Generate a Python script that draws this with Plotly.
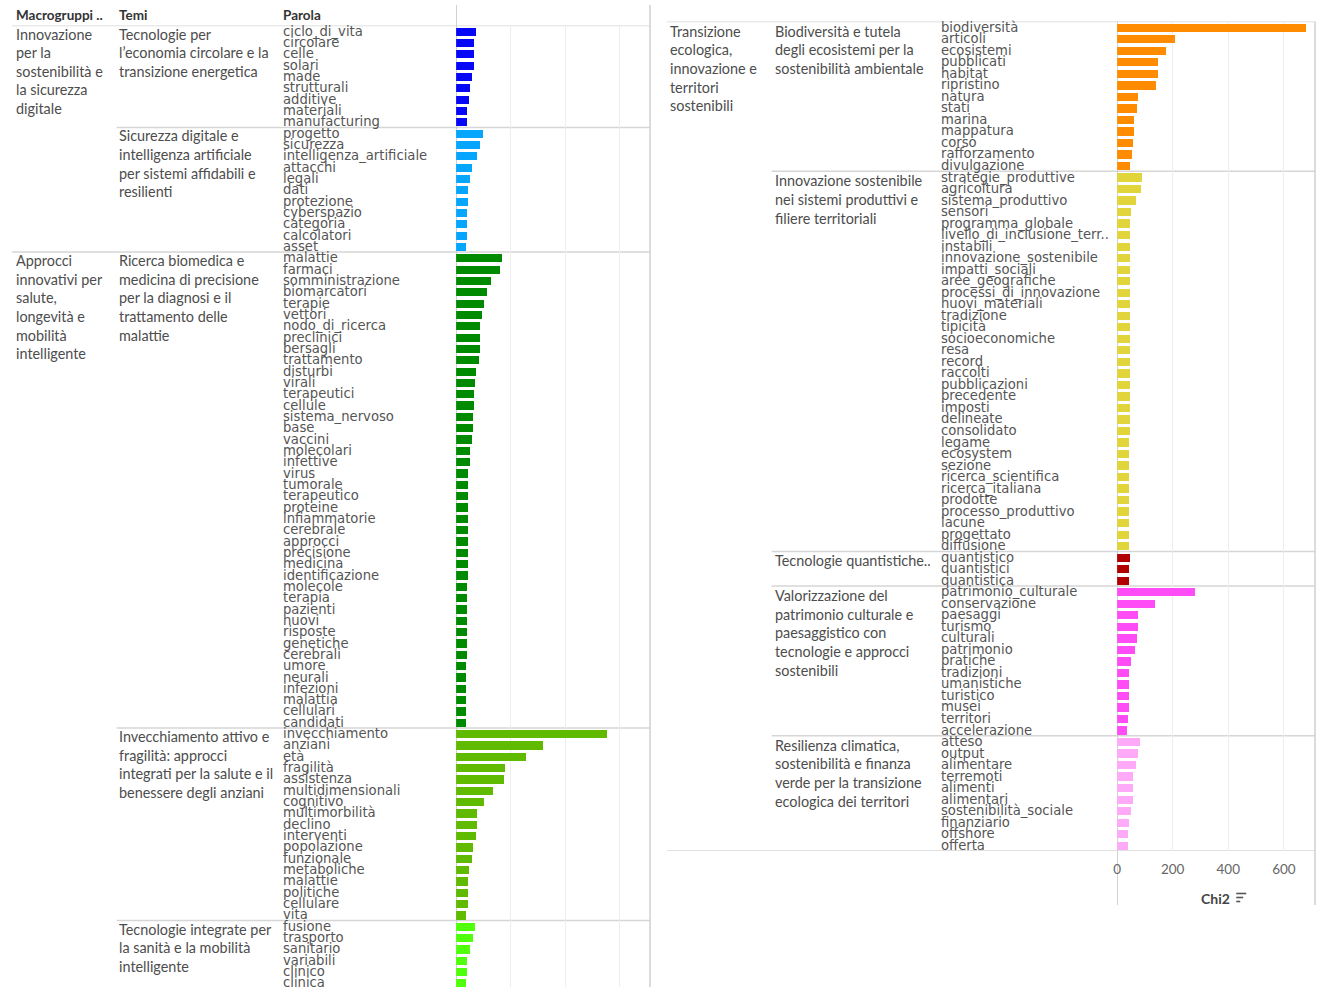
import plotly.graph_objects as go

W, H = 1319, 987

# ---------------- DATA ----------------
# Left column
m1_lines = ["Innovazione", "per la", "sostenibilità e", "la sicurezza", "digitale"]
m2_lines = ["Approcci", "innovativi per", "salute,", "longevità e", "mobilità", "intelligente"]

t1_lines = ["Tecnologie per", "l’economia circolare e la", "transizione energetica"]
t1_words = ["ciclo_di_vita", "circolare", "celle", "solari", "made", "strutturali",
            "additive", "materiali", "manufacturing"]
t1_chi2 = [75, 66, 66, 66, 59, 50, 47, 39, 39]

t2_lines = ["Sicurezza digitale e", "intelligenza artificiale", "per sistemi affidabili e", "resilienti"]
t2_words = ["progetto", "sicurezza", "intelligenza_artificiale", "attacchi", "legali", "dati",
            "protezione", "cyberspazio", "categoria", "calcolatori", "asset"]
t2_chi2 = [100, 89, 77, 59, 50, 44, 44, 41, 41, 41, 36]

t3_lines = ["Ricerca biomedica e", "medicina di precisione", "per la diagnosi e il",
            "trattamento delle", "malattie"]
t3_words = ["malattie", "farmaci", "somministrazione", "biomarcatori", "terapie", "vettori",
            "nodo_di_ricerca", "preclinici", "bersagli", "trattamento", "disturbi", "virali",
            "terapeutici", "cellule", "sistema_nervoso", "base", "vaccini", "molecolari",
            "infettive", "virus", "tumorale", "terapeutico", "proteine", "infiammatorie",
            "cerebrale", "approcci", "precisione", "medicina", "identificazione", "molecole",
            "terapia", "pazienti", "nuovi", "risposte", "genetiche", "cerebrali", "umore",
            "neurali", "infezioni", "malattia", "cellulari", "candidati"]
t3_chi2 = [170, 160, 130, 115, 103, 96, 89, 89, 89, 85, 72, 69, 65, 65, 61, 61, 57, 50, 50,
           44, 44, 44, 44, 44, 44, 44, 44, 44, 44, 40, 40, 40, 40, 40, 40, 40, 35, 35, 35,
           35, 35, 35]

t4_lines = ["Invecchiamento attivo e", "fragilità: approcci", "integrati per la salute e il",
            "benessere degli anziani"]
t4_words = ["invecchiamento", "anziani", "età", "fragilità", "assistenza", "multidimensionali",
            "cognitivo", "multimorbilità", "declino", "interventi", "popolazione", "funzionale",
            "metaboliche", "malattie", "politiche", "cellulare", "vita"]
t4_chi2 = [555, 320, 256, 180, 176, 137, 103, 76, 76, 72, 61, 57, 47, 44, 44, 44, 35]

t5_lines = ["Tecnologie integrate per", "la sanità e la mobilità", "intelligente"]
t5_words = ["fusione", "trasporto", "sanitario", "variabili", "clinico", "clinica"]
t5_chi2 = [69, 61, 50, 40, 40, 35]

# Right column
m3_lines = ["Transizione", "ecologica,", "innovazione e", "territori", "sostenibili"]

t6_lines = ["Biodiversità e tutela", "degli ecosistemi per la", "sostenibilità ambientale"]
t6_words = ["biodiversità", "articoli", "ecosistemi", "pubblicati", "habitat", "ripristino",
            "natura", "stati", "marina", "mappatura", "corso", "rafforzamento", "divulgazione"]
t6_chi2 = [680, 208, 175, 149, 149, 141, 76, 73, 62, 62, 57, 54, 45]

t7_lines = ["Innovazione sostenibile", "nei sistemi produttivi e", "filiere territoriali"]
t7_words = ["strategie_produttive", "agricoltura", "sistema_produttivo", "sensori",
            "programma_globale", "livello_di_inclusione_terr..", "instabili",
            "innovazione_sostenibile", "impatti_sociali", "aree_geografiche",
            "processi_di_innovazione", "nuovi_materiali", "tradizione", "tipicità",
            "socioeconomiche", "resa", "record", "raccolti", "pubblicazioni", "precedente",
            "imposti", "delineate", "consolidato", "legame", "ecosystem", "sezione",
            "ricerca_scientifica", "ricerca_italiana", "prodotte", "processo_produttivo",
            "lacune", "progettato", "diffusione"]
t7_chi2 = [89, 85, 69, 51, 47, 47, 47, 47, 47, 47, 47, 46, 46, 46, 46, 46, 46, 46, 46, 46,
           46, 46, 46, 44, 44, 43, 43, 43, 43, 43, 43, 43, 43]

t8_lines = ["Tecnologie quantistiche.."]
t8_words = ["quantistico", "quantistici", "quantistica"]
t8_chi2 = [46, 43, 43]

t9_lines = ["Valorizzazione del", "patrimonio culturale e", "paesaggistico con",
            "tecnologie e approcci", "sostenibili"]
t9_words = ["patrimonio_culturale", "conservazione", "paesaggi", "turismo", "culturali",
            "patrimonio", "pratiche", "tradizioni", "umanistiche", "turistico", "musei",
            "territori", "accelerazione"]
t9_chi2 = [281, 138, 76, 76, 73, 65, 50, 42, 42, 42, 42, 39, 35]

t10_lines = ["Resilienza climatica,", "sostenibilità e finanza", "verde per la transizione",
             "ecologica dei territori"]
t10_words = ["atteso", "output", "alimentare", "terremoti", "alimenti", "alimentari",
             "sostenibilità_sociale", "finanziario", "offshore", "offerta"]
t10_chi2 = [83, 76, 70, 58, 58, 58, 50, 42, 39, 39]

colors = ["#0707f7", "#06a6ff", "#008a00", "#5fba00", "#50ff0c",
          "#ff8c00", "#e2d53c", "#b00000", "#ff4cf6", "#ffaaf8"]

x_ticks = [0, 200, 400, 600]
x_tick_text = ["0", "200", "400", "600"]
header_labels = ["Macrogruppi ..", "Temi", "Parola"]
axis_title = "Chi2"

# ---------------- BUILD ----------------
def px_x(p):
    return p / W

def px_y(p):
    return 1 - p / H

fig = go.Figure()
annotations = []
shapes = []

TXT_SHIFT = -4  # annotation inner padding compensation
WORD_FONT = dict(family="DejaVu Sans", size=13.2, color="#555555")
THEME_FONT = dict(family="Lato", size=14.4, color="#4d4d4d")
SEP = "#d6d6d6"
GRID = "#eeeeee"


def hline(yref, yval, x0p, x1p, width=1.5, color=SEP):
    shapes.append(dict(type="line", xref="paper", yref=yref, x0=px_x(x0p), x1=px_x(x1p),
                       y0=yval, y1=yval, line=dict(color=color, width=width), layer="below"))


def text_block(lines, xp, yref, row_top, first_off, step):
    for k, ln in enumerate(lines):
        annotations.append(dict(text=ln, xref="paper", x=px_x(xp), xanchor="left",
                                xshift=TXT_SHIFT,
                                yref=yref, y=row_top, yanchor="middle",
                                yshift=-(first_off + step * k), showarrow=False,
                                font=THEME_FONT))


def build_panel(macros, themes, xa, ya, word_x, theme_x, macro_x,
                sep_theme_x0, sep_macro_x0, sep_x1, first_off, step):
    yref = ya
    row = 0
    ti = 0
    for m_lines, n_t in macros:
        hline(yref, row - 0.5, sep_macro_x0, sep_x1, width=1.5)
        text_block(m_lines, macro_x, yref, row - 0.5, first_off, step)
        for j in range(n_t):
            lines, words, vals, color = themes[ti]
            ti += 1
            if j > 0:
                hline(yref, row - 0.5, sep_theme_x0, sep_x1)
            text_block(lines, theme_x, yref, row - 0.5, first_off, step)
            rows = list(range(row, row + len(words)))
            fig.add_trace(go.Bar(
                x=vals, y=rows, orientation="h", width=0.72,
                marker=dict(color=color, line=dict(width=0)),
                xaxis=xa, yaxis=ya, showlegend=False,
                customdata=words, hovertemplate="%{customdata}: %{x}<extra></extra>"))
            for r, w in zip(rows, words):
                annotations.append(dict(text=w, xref="paper", x=px_x(word_x), xanchor="left",
                                        xshift=TXT_SHIFT,
                                        yref=yref, y=r, yanchor="middle", showarrow=False,
                                        font=WORD_FONT))
            row += len(words)
    return row


left_themes = [(t1_lines, t1_words, t1_chi2, colors[0]),
               (t2_lines, t2_words, t2_chi2, colors[1]),
               (t3_lines, t3_words, t3_chi2, colors[2]),
               (t4_lines, t4_words, t4_chi2, colors[3]),
               (t5_lines, t5_words, t5_chi2, colors[4])]
right_themes = [(t6_lines, t6_words, t6_chi2, colors[5]),
                (t7_lines, t7_words, t7_chi2, colors[6]),
                (t8_lines, t8_words, t8_chi2, colors[7]),
                (t9_lines, t9_words, t9_chi2, colors[8]),
                (t10_lines, t10_words, t10_chi2, colors[9])]

n_left = build_panel([(m1_lines, 2), (m2_lines, 3)], left_themes, "x", "y",
                     word_x=282, theme_x=117, macro_x=14, sep_theme_x0=113,
                     sep_macro_x0=8, sep_x1=648, first_off=8.5, step=18.6)
n_right = build_panel([(m3_lines, 5)], right_themes, "x2", "y2",
                      word_x=942, theme_x=775, macro_x=670, sep_theme_x0=770,
                      sep_macro_x0=665, sep_x1=1315, first_off=9.5, step=18.7)

# bottom line of right panel
hline("y2", n_right - 0.5, 665, 1315, width=1.5)

# vertical lines
shapes.append(dict(type="line", xref="x", yref="paper", x0=0, x1=0, y0=0, y1=px_y(5),
                   line=dict(color="#cccccc", width=1.5), layer="below"))
shapes.append(dict(type="line", xref="paper", yref="paper", x0=px_x(648), x1=px_x(648),
                   y0=0, y1=px_y(5), line=dict(color="#d0d0d0", width=1.5), layer="below"))
shapes.append(dict(type="line", xref="x2", yref="paper", x0=0, x1=0, y0=px_y(905),
                   y1=px_y(21.5), line=dict(color="#cccccc", width=1.5), layer="below"))
shapes.append(dict(type="line", xref="paper", yref="paper", x0=px_x(1315), x1=px_x(1315),
                   y0=px_y(905), y1=px_y(21.5), line=dict(color="#d0d0d0", width=1.5),
                   layer="below"))

# headers
for lbl, xp in zip(header_labels, [14, 117, 282]):
    annotations.append(dict(text="<b>" + lbl + "</b>", xref="paper", yref="paper",
                            x=px_x(xp), xshift=TXT_SHIFT, y=px_y(15), xanchor="left",
                            yanchor="middle", showarrow=False,
                            font=dict(family="Lato", size=13.5, color="#333333")))

# axis title and sort icon
annotations.append(dict(text="<b>" + axis_title + "</b>", xref="paper", yref="paper",
                        x=px_x(1215), y=px_y(898), xanchor="center", yanchor="middle",
                        showarrow=False, font=dict(family="Lato", size=14, color="#444444")))
for yy, ln in [(893.5, 10), (897.5, 7), (901.5, 4)]:
    shapes.append(dict(type="line", xref="paper", yref="paper", x0=px_x(1236),
                       x1=px_x(1236 + ln), y0=px_y(yy), y1=px_y(yy),
                       line=dict(color="#555555", width=1.6)))

X_RANGE = [0, 712]
fig.update_layout(
    width=W, height=H, margin=dict(l=0, r=0, t=0, b=0),
    paper_bgcolor="white", plot_bgcolor="white",
    bargap=0, hovermode="closest",
    xaxis=dict(domain=[px_x(453.5), px_x(648)], range=X_RANGE, anchor="y",
               showticklabels=False, showgrid=True, gridcolor=GRID, gridwidth=1,
               tickvals=x_ticks, zeroline=False, fixedrange=True, showline=False),
    yaxis=dict(domain=[0, px_y(25.5)], range=[84.36, -0.5], anchor="x",
               showticklabels=False, showgrid=False, zeroline=False, fixedrange=True),
    xaxis2=dict(domain=[px_x(1116.5), px_x(1315)], range=X_RANGE, anchor="y2",
                tickvals=x_ticks, ticktext=x_tick_text, showgrid=True, gridcolor=GRID,
                gridwidth=1, zeroline=False, fixedrange=True, ticks="outside", ticklen=6,
                tickcolor="rgba(0,0,0,0)", tickfont=dict(family="Lato", size=13.5,
                                                          color="#666666")),
    yaxis2=dict(domain=[px_y(851), px_y(21.5)], range=[n_right - 0.5, -0.5], anchor="x2",
                showticklabels=False, showgrid=False, zeroline=False, fixedrange=True),
    annotations=annotations, shapes=shapes,
)

fig.write_html(
    "out.html",
    config={"displayModeBar": False},
    post_script="document.body.style.margin='0';document.body.style.overflow='hidden';",
)
